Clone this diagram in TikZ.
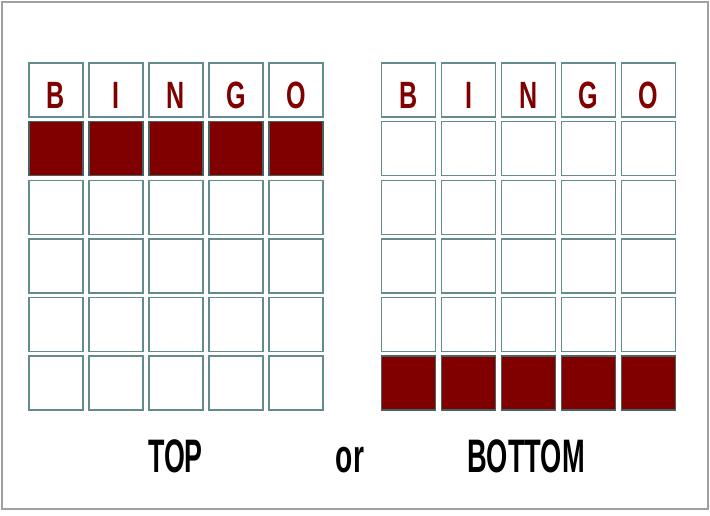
\documentclass[tikz,border=0pt]{standalone}
\usepackage{fontspec}
\setmainfont{Liberation Sans}
\usepackage{graphicx}
\usetikzlibrary{positioning, calc}
\definecolor{cardred}{RGB}{128,0,0}
\definecolor{cellborder}{RGB}{100,140,140}
\definecolor{framegray}{RGB}{160,160,160}
\tikzset{
    cell/.style={rectangle, draw=cellborder, line width=1.4pt, fill=white,
        minimum width=54pt, minimum height=54pt, inner sep=0pt},
    marked/.style={cell, fill=cardred, draw=cellborder!70!black},
    letter/.style={anchor=base, text=cardred, font=\fontsize{38}{38}\selectfont\bfseries},
    caption/.style={anchor=base, font=\fontsize{47}{47}\selectfont\bfseries}
}
\newcommand{\slim}[1]{\scalebox{0.66}[1]{#1}}

\begin{document}
\begin{tikzpicture}[x=1pt, y=-1pt]

    % Frame
    \fill[white] (0,0) rectangle (710,515);
    \draw[framegray, line width=2pt] (2,2) rectangle (708,509);
    \useasboundingbox (0,0) rectangle (710,515);

    % Left card: TOP row marked
    \foreach \col/\ch in {0/B,1/I,2/N,3/G,4/O} {
        \node[cell] (L-\col-0) at ({56+60*\col},90) {};
        \node[letter] at ($(L-\col-0)+(0,18)$) {\slim{\ch}};
        \node[marked] (L-\col-1) at ({56+60*\col},148.6) {};
        \foreach \row in {2,...,5}
            \node[cell] (L-\col-\row) at ({56+60*\col},{90+58.6*\row}) {};
    }

    % Right card: BOTTOM row marked
    \foreach \col/\ch in {0/B,1/I,2/N,3/G,4/O} {
        \node[cell] (R-\col-0) at ({408.5+60*\col},90) {};
        \node[letter] at ($(R-\col-0)+(0,18)$) {\slim{\ch}};
        \foreach \row in {1,...,4}
            \node[cell] (R-\col-\row) at ({408.5+60*\col},{90+58.6*\row}) {};
        \node[marked] (R-\col-5) at ({408.5+60*\col},383) {};
    }

    % Captions
    \node[caption] (top) at (175.5,472) {\scalebox{0.57}[1]{TOP}};
    \node[caption] (or) at (350,472) {\scalebox{0.6}[1]{or}};
    \node[caption] (bottom) at (526,472) {\scalebox{0.58}[1]{BOTTOM}};

\end{tikzpicture}
\end{document}
